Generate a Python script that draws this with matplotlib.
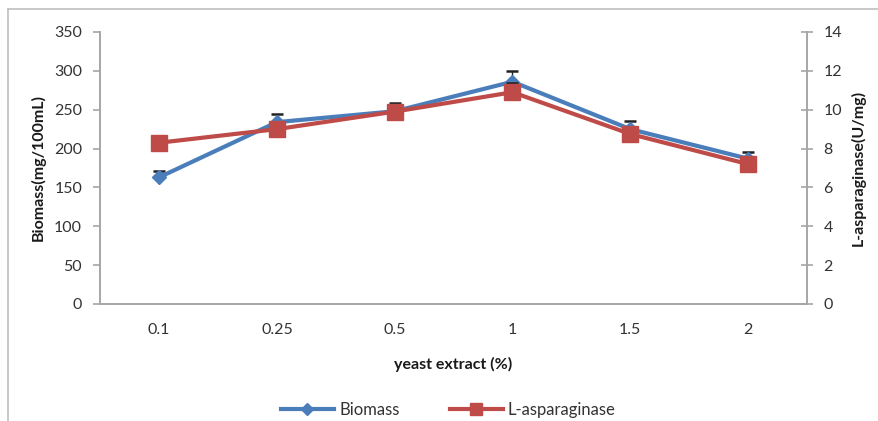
import numpy as np
import matplotlib.pyplot as plt
from matplotlib.lines import Line2D

plt.rcParams['font.family'] = ['Lato', 'DejaVu Sans']

categories = ["0.1", "0.25", "0.5", "1", "1.5", "2"]
biomass = [163, 234, 248, 286, 225, 187]
biomass_err = [8, 11, 11, 14, 10, 8]
asparaginase = [8.3, 9.0, 9.9, 10.9, 8.75, 7.2]
asparaginase_err = [0.35, 0.25, 0.25, 0.45, 0.25, 0.25]

blue = "#4A7EBB"
red = "#BE4B48"
grey = "#A6A6A6"
txt = "#333333"

fig = plt.figure(figsize=(8.79, 4.21), dpi=100)
ax = fig.add_axes([0.114, 0.278, 0.804, 0.646])
ax2 = ax.twinx()

x = np.arange(len(categories))
zeros = np.zeros(len(categories))
ax.errorbar(x, biomass, yerr=[zeros, biomass_err], color=blue, lw=3, marker="D", ms=7,
            ecolor="#222222", elinewidth=1, capsize=4, capthick=1.8, zorder=3)
ax2.errorbar(x, asparaginase, yerr=[zeros, asparaginase_err], color=red, lw=3, marker="s", ms=11,
             ecolor="#222222", elinewidth=1, capsize=4, capthick=1.8, zorder=3)

ax.set_xlim(-0.5, len(categories) - 0.5)
ax.set_ylim(0, 350)
ax.set_yticks(np.arange(0, 351, 50))
ax2.set_ylim(0, 14)
ax2.set_yticks(np.arange(0, 15, 2))
ax.set_xticks(x)
ax.set_xticklabels(categories)

for a in (ax, ax2):
    a.spines["top"].set_visible(False)
    for s in ("left", "right", "bottom"):
        a.spines[s].set_color(grey)
        a.spines[s].set_linewidth(1.2)
    a.tick_params(colors=txt, labelsize=11.5, color=grey, width=1.2)
ax.tick_params(axis="x", length=0, pad=14)
ax.tick_params(axis="y", length=5, pad=8)
ax2.tick_params(axis="y", direction="inout", length=8, pad=8)

ax.set_xlabel("yeast extract (%)", fontsize=11.5, fontweight="bold", color="#1a1a1a", labelpad=14)
ax.set_ylabel("Biomass(mg/100mL)", fontsize=11.5, fontweight="bold", color="#1a1a1a", labelpad=6)
ax2.set_ylabel("L-asparaginase(U/mg)", fontsize=11.5, fontweight="bold", color="#1a1a1a", labelpad=6)

handles = [Line2D([], [], color=blue, lw=3, marker="D", ms=6),
           Line2D([], [], color=red, lw=3, marker="s", ms=9)]
fig.legend(handles, ["Biomass", "L-asparaginase"], loc="center", bbox_to_anchor=(0.51, 0.027),
           ncol=2, frameon=False, fontsize=12, handlelength=3.2, columnspacing=3, handletextpad=0.3,
           labelcolor=txt)

# outer frame (top and left edges only)
fig.add_artist(Line2D([0.009, 1.0], [0.979, 0.979], color="#BFBFBF", lw=1.2, transform=fig.transFigure))
fig.add_artist(Line2D([0.009, 0.009], [0.979, 0.0], color="#BFBFBF", lw=1.2, transform=fig.transFigure))

fig.savefig("out.png", dpi=100)
